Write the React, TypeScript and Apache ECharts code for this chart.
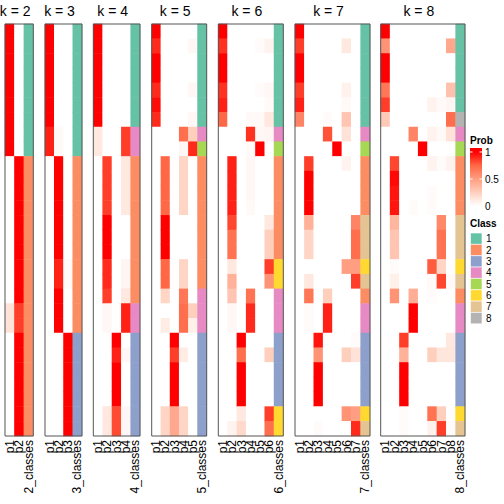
import React, { useEffect, useRef } from "react";
import * as echarts from "echarts";

// ---------- data ----------
const ROWS = Array.from({ length: 28 }, (_, i) => "r" + (i + 1));
const CLASS_COLORS = ["#66C2A5", "#FC8D62", "#8DA0CB", "#E78AC3", "#A6D854", "#FFD92F", "#E5C494", "#B3B3B3"];
const CLASS_LABELS = ["1", "2", "3", "4", "5", "6", "7", "8"];
const PROB_TICKS = ["1", "0.5", "0"];

// k = 2
const class2 = [1,1,1,1,1,1,1, 1,1, 2,2,2,2, 2,2,2, 2,2, 2,2,2, 2,2,2,2,2,2,2];
const k2p1 = [1,1,1,1,1,1,1, 1,1, 0,0,0,0, 0,0,0, 0,0, 0,0.15,0.15, 0,0,0,0,0,0,0];
const k2p2 = [0,0,0,0,0,0,0, 0,0, 1,1,1,1, 1,1,1, 1,1, 1,0.85,0.85, 1,1,1,1,1,1,1];

// k = 3
const class3 = [1,1,1,1,1,1,1, 1,1, 2,2,2,2, 2,2,2, 2,2, 2,2,2, 3,3,3,3,3,3,3];
const k3p1 = [1,1,1,1,1,1,1, 0.92,0.92, 0,0,0,0, 0,0,0, 0,0, 0,0,0, 0,0,0,0,0,0,0];
const k3p2 = [0,0,0,0,0,0,0, 0.03,0.03, 1,1,1,1, 1,1,1, 0.92,0.92, 1,1,1, 0,0,0,0,0,0,0];
const k3p3 = [0,0,0,0,0,0,0, 0,0, 0,0,0,0, 0,0,0, 0.03,0.03, 0,0,0, 1,1,1,1,1,1,1];

// k = 4
const class4 = [1,1,1,1,1,1,1, 4,4, 2,2,2,2, 2,2,2, 2,2, 2,4,4, 3,3,3,3,3,3,3];
const k4p1 = [1,1,1,1,1,1,1, 0.12,0.12, 0,0,0,0, 0,0,0, 0,0, 0,0,0, 0,0,0,0,0,0,0];
const k4p2 = [0,0,0,0,0,0,0, 0,0, 0.85,0.85,0.85,0.85, 1,1,1, 0.9,0.9, 0.85,0.04,0.04, 0,0,0,0,0,0.12,0.12];
const k4p3 = [0,0,0,0,0,0,0, 0,0, 0,0,0,0, 0,0,0, 0,0, 0,0,0, 1,0.92,1,1,1,0.82,0.82];
const k4p4 = [0,0,0,0,0,0,0, 0.85,0.85, 0.12,0.12,0.12,0.12, 0,0,0, 0.05,0.05, 0.12,0.92,0.92, 0,0.04,0,0,0,0.04,0.04];

// k = 5
const class5 = [1,1,1,1,1,1,1, 4,5, 2,2,2,2, 2,2,2, 2,2, 4,4,4, 3,3,3,3,3,3,3];
const k5p1 = [1,0.9,1,1,0.9,0.97,0.9, 0,0, 0,0,0,0, 0,0,0, 0,0, 0,0,0, 0,0,0,0,0,0,0];
const k5p2 = [0,0,0,0,0,0,0, 0,0, 0.75,0.75,0.75,0.75, 1,1,1, 0.75,0.75, 0.22,0,0.1, 0,0,0,0,0,0.22,0.22];
const k5p3 = [0,0,0,0,0,0,0, 0,0, 0,0,0,0, 0,0,0, 0,0, 0,0,0, 1,0.85,1,1,1,0.45,0.45];
const k5p4 = [0,0,0,0,0,0,0, 0.72,0.04, 0.22,0.22,0.22,0.22, 0,0,0, 0.22,0.22, 0.68,0.72,0.72, 0,0.1,0,0,0,0.22,0.22];
const k5p5 = [0,0.04,0,0,0.04,0,0.04, 0.25,0.9, 0,0,0,0, 0,0,0, 0,0, 0,0.25,0.08, 0,0,0,0,0,0,0];

// k = 6
const class6 = [1,1,1,1,1,1,1, 4,5, 2,2,2,2, 2,2,2, 6,6, 4,4,4, 3,3,3,3,3,6,6];
const k6p1 = [1,0.88,1,1,0.88,0.92,0.75, 0,0, 0,0,0,0, 0,0,0, 0,0, 0,0,0, 0,0,0,0,0,0,0];
const k6p2 = [0,0,0,0,0,0,0, 0,0, 0.92,0.92,0.92,0.92, 0.83,0.7,0.7, 0.12,0.4, 0.3,0.04,0.04, 0,0,0,0,0,0,0.06];
const k6p3 = [0,0,0,0,0,0,0, 0,0, 0,0,0,0, 0,0,0, 0,0, 0,0,0, 1,0.72,1,1,1,0.12,0.2];
const k6p4 = [0,0,0,0,0,0,0.03, 0.88,0.03, 0.04,0.04,0.04,0.03, 0,0,0, 0,0, 0.7,0.9,0.9, 0,0,0,0,0,0,0];
const k6p5 = [0,0.02,0,0,0.02,0,0.03, 0.04,1, 0,0,0,0, 0,0,0, 0,0, 0,0,0, 0,0,0,0,0,0,0];
const k6p6 = [0,0.06,0,0,0.04,0.03,0.12, 0.05,0, 0,0,0,0, 0.12,0.25,0.25, 0.85,0.55, 0,0,0, 0,0.25,0,0,0,0.85,0.72];

// k = 7
const class7 = [1,1,1,1,1,1,1, 4,5, 2,2,2,2, 7,7,7, 6,7, 2,4,4, 3,3,3,3,3,6,7];
const k7p1 = [1,0.85,1,1,0.85,0.92,0.62, 0,0, 0,0,0,0, 0,0,0, 0,0, 0,0,0, 0,0,0,0,0,0,0];
const k7p2 = [0,0,0,0,0,0,0, 0,0, 0.85,1,1,1, 0.4,0.22,0.22, 0,0.12, 0.68,0.02,0.02, 0,0,0,0,0,0,0];
const k7p3 = [0,0,0,0,0,0,0, 0,0, 0,0,0,0, 0,0,0, 0,0, 0,0,0, 0.95,0.55,1,1,1,0,0.02];
const k7p4 = [0,0,0,0,0,0,0.02, 0.8,0, 0,0,0,0, 0,0,0, 0,0, 0.25,0.92,0.92, 0,0,0,0,0,0,0];
const k7p5 = [0,0,0,0,0,0,0, 0,1, 0,0,0,0, 0,0,0, 0,0, 0,0,0, 0,0,0,0,0,0,0];
const k7p6 = [0,0.12,0,0,0.07,0.03,0.3, 0.15,0, 0.06,0,0,0, 0,0,0, 0.5,0, 0,0,0, 0,0.25,0,0,0,0.55,0];
const k7p7 = [0,0,0,0,0,0,0, 0,0, 0,0,0,0, 0.62,0.72,0.72, 0.5,0.85, 0,0,0, 0.02,0.15,0,0,0,0.5,0.9];

// k = 8
const class8 = [1,1,1,1,1,1,8, 4,5, 2,2,2,2, 7,7,7, 6,7, 2,4,4, 3,3,3,3,3,6,7];
const k8p1 = [1,0.55,1,1,0.68,0.85,0.28, 0,0, 0,0,0,0, 0,0,0, 0,0, 0,0,0, 0,0,0,0,0,0,0];
const k8p2 = [0,0,0,0,0,0,0, 0,0, 0.83,0.98,0.95,0.95, 0.38,0.3,0.3, 0.02,0.08, 0.55,0,0, 0,0,0,0,0,0,0];
const k8p3 = [0,0,0,0,0,0,0, 0,0, 0,0,0,0, 0,0,0, 0,0, 0,0,0, 0.85,0.4,1,1,1,0.02,0.02];
const k8p4 = [0,0,0,0,0,0,0, 0.62,0, 0,0,0,0.02, 0,0,0, 0,0, 0.42,1,1, 0,0,0,0,0,0,0];
const k8p5 = [0,0,0,0,0,0,0, 0,1, 0,0,0,0, 0,0,0, 0,0, 0,0,0, 0,0,0,0,0,0,0];
const k8p6 = [0,0,0,0,0,0.06,0, 0.06,0, 0.06,0,0.02,0.02, 0,0,0, 0.78,0.03, 0.02,0,0, 0,0.25,0,0,0,0.7,0.07];
const k8p7 = [0,0,0,0,0,0.03,0, 0.03,0, 0.02,0,0,0, 0.6,0.7,0.7, 0.22,0.83, 0,0,0, 0,0.13,0,0,0,0.25,0.85];
const k8p8 = [0,0.45,0,0,0.32,0.05,0.72, 0.15,0, 0.06,0,0,0, 0,0,0, 0,0.03, 0,0,0, 0.12,0.13,0,0,0,0,0.02];

const PANELS = [
  { k: 2, probs: [k2p1, k2p2], classes: class2 },
  { k: 3, probs: [k3p1, k3p2, k3p3], classes: class3 },
  { k: 4, probs: [k4p1, k4p2, k4p3, k4p4], classes: class4 },
  { k: 5, probs: [k5p1, k5p2, k5p3, k5p4, k5p5], classes: class5 },
  { k: 6, probs: [k6p1, k6p2, k6p3, k6p4, k6p5, k6p6], classes: class6 },
  { k: 7, probs: [k7p1, k7p2, k7p3, k7p4, k7p5, k7p6, k7p7], classes: class7 },
  { k: 8, probs: [k8p1, k8p2, k8p3, k8p4, k8p5, k8p6, k8p7, k8p8], classes: class8 },
];

// ---------- layout ----------
const PANEL_X = [[5, 33.3], [45, 82], [93.3, 140], [151.7, 206.7], [218.3, 283.3], [295, 370], [380.7, 465]];
const TOP = 24;
const HEIGHT = 412;
const FONT = "'Liberation Sans', Arial, Helvetica, sans-serif";
const PROB_COLORS = ["#FFFFFF", "#FFCFBE", "#FF9E81", "#FF6846", "#FF0000"];

function buildOption() {
  const grid: any[] = [];
  const xAxis: any[] = [];
  const yAxis: any[] = [];
  const series: any[] = [];
  const probIdx: number[] = [];
  const classIdx: number[] = [];
  const graphic: any[] = [];

  PANELS.forEach((p, i) => {
    const [x0, x1] = PANEL_X[i];
    grid.push({ left: x0, top: TOP, width: x1 - x0, height: HEIGHT, containLabel: false });
    const cats = p.probs.map((_, j) => "p" + (j + 1)).concat([p.k + "_classes"]);
    xAxis.push({
      gridIndex: i, type: "category", data: cats,
      axisLine: { show: false }, axisTick: { show: false }, splitLine: { show: false },
      axisLabel: { rotate: 90, interval: 0, fontSize: 12, margin: 4, color: "#000", fontFamily: FONT },
    });
    yAxis.push({ gridIndex: i, type: "category", data: ROWS, inverse: true, show: false });
    const pdata: any[] = [];
    p.probs.forEach((col, c) => col.forEach((v, r) => pdata.push([c, r, v])));
    probIdx.push(series.length);
    series.push({ type: "heatmap", xAxisIndex: i, yAxisIndex: i, data: pdata, emphasis: { disabled: true }, progressive: 0 });
    const cdata = p.classes.map((v, r) => [p.probs.length, r, v]);
    classIdx.push(series.length);
    series.push({ type: "heatmap", xAxisIndex: i, yAxisIndex: i, data: cdata, emphasis: { disabled: true }, progressive: 0 });

    graphic.push({
      type: "rect", z: 100, silent: true,
      shape: { x: x0, y: TOP, width: x1 - x0, height: HEIGHT },
      style: { fill: "transparent", stroke: "#555", lineWidth: 1 },
    });
    graphic.push({
      type: "text", z: 100, silent: true,
      style: { text: "k = " + p.k, x: (x0 + x1) / 2 - 4, y: 10.5, textAlign: "center", textVerticalAlign: "middle", fontSize: 14, fontFamily: FONT, fill: "#000" },
    });
  });

  // Prob legend
  const gy0 = 148, gy1 = 210, gh = gy1 - gy0;
  const ty = [152, 179, 206];
  const off = (y: number) => (y - gy0) / gh;
  graphic.push({ type: "text", silent: true, style: { text: "Prob", x: 470, y: 140, textVerticalAlign: "middle", fontSize: 10, fontWeight: "bold", fontFamily: FONT, fill: "#000" } });
  graphic.push({
    type: "rect", silent: true, shape: { x: 470, y: gy0, width: 12, height: gh },
    style: {
      fill: {
        type: "linear", x: 0, y: 0, x2: 0, y2: 1,
        colorStops: [
          { offset: 0, color: PROB_COLORS[4] },
          { offset: off(ty[0]), color: PROB_COLORS[4] },
          { offset: off((ty[0] + ty[1]) / 2), color: PROB_COLORS[3] },
          { offset: off(ty[1]), color: PROB_COLORS[2] },
          { offset: off((ty[1] + ty[2]) / 2), color: PROB_COLORS[1] },
          { offset: off(ty[2]), color: PROB_COLORS[0] },
          { offset: 1, color: PROB_COLORS[0] },
        ],
      },
    },
  });
  PROB_TICKS.forEach((t, i) => {
    graphic.push({ type: "line", silent: true, z: 10, shape: { x1: 470, y1: ty[i], x2: 472.5, y2: ty[i] }, style: { stroke: "#fff", lineWidth: 1 } });
    graphic.push({ type: "line", silent: true, z: 10, shape: { x1: 479.5, y1: ty[i], x2: 482, y2: ty[i] }, style: { stroke: "#fff", lineWidth: 1 } });
    graphic.push({ type: "text", silent: true, style: { text: t, x: 485, y: ty[i], textVerticalAlign: "middle", fontSize: 10, fontFamily: FONT, fill: "#000" } });
  });

  // Class legend
  graphic.push({ type: "text", silent: true, style: { text: "Class", x: 470, y: 223, textVerticalAlign: "middle", fontSize: 10, fontWeight: "bold", fontFamily: FONT, fill: "#000" } });
  CLASS_LABELS.forEach((lab, i) => {
    const y = 233 + i * 11.35;
    graphic.push({ type: "rect", silent: true, shape: { x: 470.5, y, width: 11.5, height: 11.35 }, style: { fill: CLASS_COLORS[i], stroke: "#fff", lineWidth: 0.6 } });
    graphic.push({ type: "text", silent: true, style: { text: lab, x: 486, y: y + 5.7, textVerticalAlign: "middle", fontSize: 10, fontFamily: FONT, fill: "#000" } });
  });

  return {
    animation: false,
    backgroundColor: "#fff",
    grid, xAxis, yAxis, series, graphic,
    visualMap: [
      { type: "continuous", show: false, min: 0, max: 1, seriesIndex: probIdx, inRange: { color: PROB_COLORS } },
      {
        type: "piecewise", show: false, seriesIndex: classIdx,
        pieces: CLASS_COLORS.map((c, i) => ({ value: i + 1, color: c })),
      },
    ],
  };
}

export default function App() {
  const ref = useRef<HTMLDivElement>(null);
  useEffect(() => {
    const chart = echarts.init(ref.current!, null, { renderer: "svg" });
    chart.setOption(buildOption() as any);
    return () => chart.dispose();
  }, []);
  return <div ref={ref} style={{ position: "absolute", left: 0, top: 0, width: 504, height: 504 }} />;
}
